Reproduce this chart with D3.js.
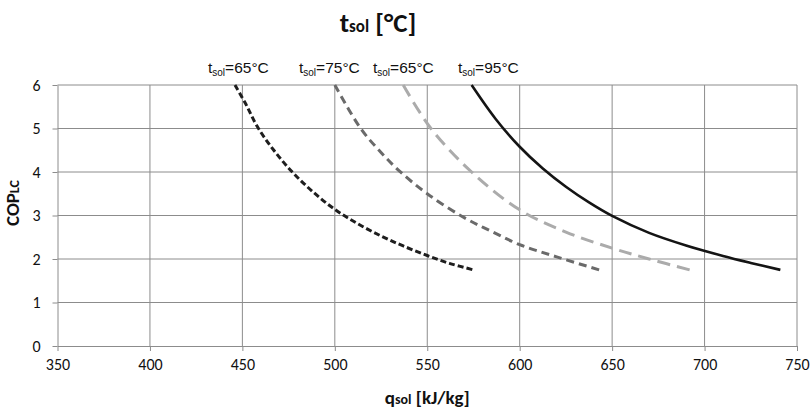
<!DOCTYPE html>
<html>
<head>
<meta charset="utf-8">
<script src="https://cdn.jsdelivr.net/npm/d3@7"></script>
<style>
  body { margin: 0; background: #fff; }
  .axis text { font-family: Carlito, Lato, "Open Sans", sans-serif; font-size: 16px; fill: #111; }
</style>
</head>
<body>
<div id="chart"></div>
<script>
// x ticks and y ticks
const xTicks = [350, 400, 450, 500, 550, 600, 650, 700, 750];
const yTicks = [0, 1, 2, 3, 4, 5, 6];

// curves: [q_sol, COP]
const series65a = [[446, 6], [452, 5.55], [458, 5.05], [467, 4.5], [477, 4], [488, 3.55], [500, 3.14],
  [512, 2.82], [525, 2.53], [537, 2.3], [550, 2.08], [562, 1.9], [575, 1.75]];
const series75 = [[500, 6], [514, 5], [525, 4.45], [535, 4.02], [550, 3.5], [570, 2.95], [585, 2.63],
  [600, 2.33], [620, 2.05], [643, 1.75]];
const series65b = [[537, 6], [552, 5], [574, 4], [600, 3.13], [625, 2.62], [650, 2.25], [670, 2.0], [692, 1.75]];
const series95 = [[574, 6], [587, 5.22], [600, 4.58], [612.5, 4.08], [625, 3.66], [637.5, 3.3], [650, 2.99],
  [670, 2.6], [690, 2.31], [710, 2.07], [725, 1.91], [741, 1.75]];

const labels = ["=65°C", "=75°C", "=65°C", "=95°C"];
const labelX = [208, 299, 373, 458];

const margin = { top: 85, right: 13, bottom: 63, left: 57.5 },
  width = 810 - margin.left - margin.right,
  height = 409 - margin.top - margin.bottom;

const svg = d3.select("#chart").append("svg")
  .attr("width", 810).attr("height", 409);

const x = d3.scaleLinear().domain([350, 750]).range([0, width]);
const y = d3.scaleLinear().domain([0, 6]).range([height, 0]);

const g = svg.append("g").attr("transform", `translate(${margin.left},${margin.top})`);

// grid
g.append("g").selectAll("line").data(xTicks.slice(1)).join("line")
  .attr("x1", d => x(d)).attr("x2", d => x(d)).attr("y1", 0).attr("y2", height)
  .attr("stroke", "#8c8c8c").attr("stroke-width", 1);
g.append("g").selectAll("line").data(yTicks.slice(1)).join("line")
  .attr("x1", 0).attr("x2", width).attr("y1", d => y(d)).attr("y2", d => y(d))
  .attr("stroke", "#8c8c8c").attr("stroke-width", 1);

// axes
const xAxis = d3.axisBottom(x).tickValues(xTicks).tickSize(5).tickPadding(8).tickSizeOuter(0);
const gx = g.append("g").attr("class", "axis").attr("transform", `translate(0,${height})`).call(xAxis);
const yAxis = d3.axisLeft(y).tickValues(yTicks).tickFormat(d3.format("d"))
  .tickSize(5).tickPadding(12).tickSizeOuter(0);
const gy = g.append("g").attr("class", "axis").call(yAxis);
[gx, gy].forEach(a => {
  a.select(".domain").attr("stroke", "#8c8c8c");
  a.selectAll(".tick line").attr("stroke", "#8c8c8c");
});

// curves
const line = d3.line().curve(d3.curveCatmullRom.alpha(0.5)).x(d => x(d[0])).y(d => y(d[1]));
const styles = [
  { data: series65a, color: "#1e1e1e", dash: "6,3", w: 3 },
  { data: series75, color: "#6a6a6a", dash: "8,5", w: 3 },
  { data: series65b, color: "#ababab", dash: "13,7", w: 3 },
  { data: series95, color: "#141414", dash: null, w: 2.6 }
];
styles.forEach(s => {
  g.append("path").attr("d", line(s.data))
    .attr("fill", "none").attr("stroke", s.color)
    .attr("stroke-width", s.w)
    .attr("stroke-dasharray", s.dash);
});

// series labels
const lab = svg.append("g").attr("font-family", "'Liberation Sans', Arial, sans-serif").attr("fill", "#111");
labels.forEach((t, i) => {
  const tx = lab.append("text").attr("x", labelX[i]).attr("y", 73).attr("font-size", 15.5);
  tx.append("tspan").text("t");
  tx.append("tspan").attr("font-size", 10).attr("dy", 3).text("sol");
  tx.append("tspan").attr("dy", -3).text(t);
});

// title
const title = svg.append("text").attr("x", 378).attr("y", 32).attr("text-anchor", "middle")
  .attr("font-family", "Carlito, Lato, 'Open Sans', sans-serif").attr("font-weight", "bold")
  .attr("font-size", 27).attr("fill", "#111");
title.append("tspan").text("t");
title.append("tspan").attr("font-size", 17).text("sol");
title.append("tspan").text(" [°C]");

// x title
const xt = svg.append("text").attr("x", margin.left + width / 2).attr("y", 404).attr("text-anchor", "middle")
  .attr("font-family", "Carlito, Lato, 'Open Sans', sans-serif").attr("font-weight", "bold")
  .attr("font-size", 19).attr("fill", "#111");
xt.append("tspan").text("q");
xt.append("tspan").attr("font-size", 14).text("sol");
xt.append("tspan").text(" [kJ/kg]");

// y title
const yt = svg.append("text").attr("transform", "translate(19,203) rotate(-90)").attr("text-anchor", "middle")
  .attr("font-family", "Carlito, Lato, 'Open Sans', sans-serif").attr("font-weight", "bold")
  .attr("font-size", 19).attr("fill", "#111");
yt.append("tspan").text("COP");
yt.append("tspan").attr("font-size", 14).text("LC");
</script>
</body>
</html>
